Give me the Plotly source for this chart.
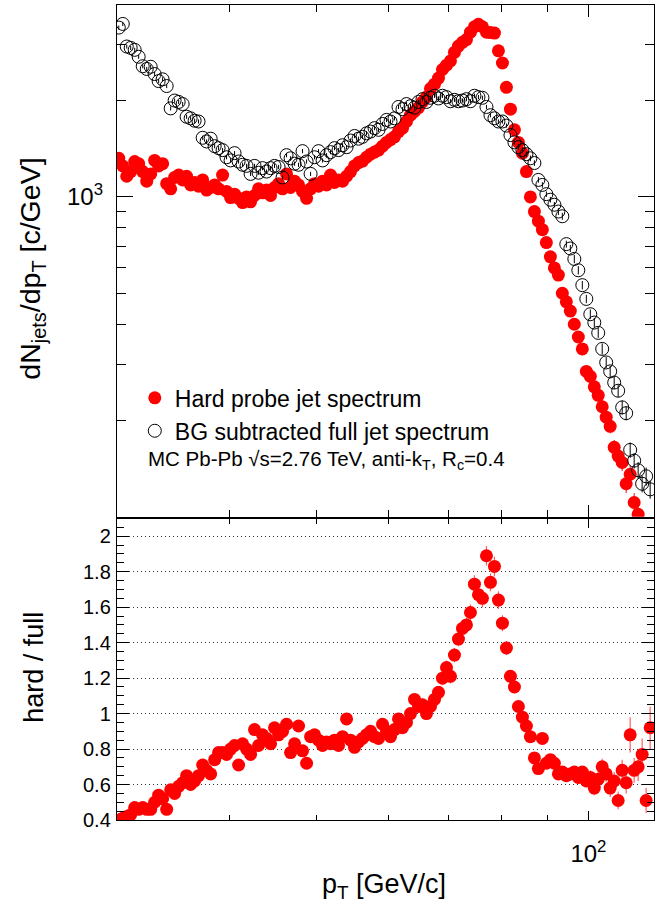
import plotly.graph_objects as go

# ---------------- data ----------------
pt = [30.14, 30.45, 30.76, 31.07, 31.39, 31.71, 32.04, 32.37, 32.70, 33.03,
      33.37, 33.71, 34.06, 34.41, 34.76, 35.12, 35.48, 35.84, 36.21, 36.58,
      36.95, 37.34, 37.72, 38.11, 38.50, 38.89, 39.29, 39.69, 40.10, 40.51,
      40.93, 41.35, 41.77, 42.20, 42.63, 43.07, 43.51, 43.96, 44.41, 44.86,
      45.33, 45.79, 46.26, 46.74, 47.22, 47.70, 48.19, 48.69, 49.19, 49.69,
      50.20, 50.72, 51.24, 51.76, 52.29, 52.83, 53.37, 53.92, 54.47, 55.03,
      55.60, 56.17, 56.74, 57.33, 57.92, 58.51, 59.11, 59.72, 60.33, 60.95,
      61.57, 62.20, 62.84, 63.49, 64.14, 64.80, 65.46, 66.13, 66.81, 67.50,
      68.19, 68.89, 69.60, 70.31, 71.03, 71.76, 72.50, 73.24, 73.99, 74.75,
      75.52, 76.29, 77.08, 77.87, 78.67, 79.47, 80.29, 81.11, 81.95, 82.79,
      83.63, 84.49, 85.36, 86.23, 87.12, 88.01, 88.91, 89.82, 90.75, 91.68,
      92.62, 93.56, 94.52, 95.49, 96.47, 97.46, 98.46, 99.47, 100.49, 101.52,
      102.54, 103.59, 104.65, 105.72, 106.81, 107.90, 109.01, 110.13, 111.26, 112.40,
      113.55, 114.71, 115.89, 117.08]

hard = [1320, 1250, 1160, 1200, 1290, 1270, 1200, 1120, 1180, 1300,
        1250, 1270, 1100, 1060, 1150, 1170, 1130, 1160, 1090, 1110,
        1080, 1130, 1050, 1070, 1090, 1060, 1170, 1040, 995, 1020,
        990, 960, 1000, 965, 1010, 1060, 1030, 1050, 1010, 1070,
        1100, 1060, 1180, 1070, 1120, 1090, 1040, 990, 1060, 1100,
        1080, 1120, 1090, 1170, 1110, 1130, 1120, 1160, 1200, 1250,
        1280, 1294, 1330, 1360, 1380, 1400, 1440, 1480, 1510, 1540,
        1600, 1640, 1720, 1800, 1850, 1900, 1980, 2050, 2180, 2250,
        2350, 2500, 2580, 2660, 2830, 2960, 3040, 3100, 3270, 3400,
        3460, 3400, 3270, 3260, 3250, 2860, 2620, 2200, 1880, 1620,
        1480, 1370, 1200, 1000, 900, 840, 790, 720, 650, 600,
        570, 500, 470, 440, 400, 365, 335, 285, 275, 255,
        240, 221, 205, 192, 165, 155, 148, 127, 136, 111,
        102, 95, 89, 84]

full = [3380, 3470, 2950, 2920, 2880, 2740, 2560, 2510, 2550, 2420,
        2300, 2330, 2220, 1890, 2000, 1980, 1950, 1780, 1760, 1730,
        1720, 1530, 1490, 1520, 1440, 1420, 1400, 1330, 1300, 1370,
        1290, 1260, 1250, 1180, 1250, 1190, 1230, 1200, 1230, 1250,
        1240, 1150, 1350, 1320, 1270, 1260, 1390, 1290, 1180, 1330,
        1390, 1300, 1350, 1380, 1420, 1400, 1450, 1430, 1500, 1550,
        1520, 1540, 1580, 1600, 1640, 1620, 1690, 1740, 1720, 1760,
        1910, 1880, 1950, 1920, 1900, 1980, 2020, 1980, 2040, 2070,
        2030, 2070, 2050, 1990, 2010, 1990, 2000, 2020, 1990, 2070,
        2050, 2040, 1910, 1800, 1760, 1720, 1720, 1670, 1560, 1480,
        1430, 1400, 1360, 1320, 1276, 1130, 1090, 1020, 980, 945,
        900, 870, 712, 690, 640, 590, 530, 480, 430, 405,
        376, 335, 304, 285, 263, 248, 220, 211, 162, 150,
        140, 127, 134, 122]

ratio = [0.40, 0.41, 0.42, 0.43, 0.47, 0.46, 0.47, 0.46, 0.46, 0.50,
         0.54, 0.52, 0.46, 0.57, 0.55, 0.59, 0.61, 0.65, 0.60, 0.62,
         0.65, 0.71, 0.68, 0.66, 0.74, 0.78, 0.78, 0.77, 0.80, 0.82,
         0.71, 0.83, 0.80, 0.77, 0.91, 0.82, 0.88, 0.86, 0.83, 0.92,
         0.88, 0.90, 0.94, 0.78, 0.83, 0.93, 0.79, 0.72, 0.87, 0.88,
         0.85, 0.82, 0.84, 0.83, 0.85, 0.82, 0.87, 0.97, 0.85, 0.81,
         0.84, 0.86, 0.88, 0.90, 0.87, 0.86, 0.94, 0.90, 0.87, 0.91,
         0.97, 0.92, 0.95, 1.00, 1.08, 1.04, 1.05, 1.00, 1.04, 1.08,
         1.12, 1.20, 1.26, 1.21, 1.33, 1.42, 1.48, 1.50, 1.57, 1.73,
         1.67, 1.65, 1.89, 1.74, 1.83, 1.64, 1.51, 1.37, 1.21, 1.15,
         1.04, 0.98, 0.93, 0.87, 0.75, 0.69, 0.86, 0.72, 0.74, 0.72,
         0.66, 0.67, 0.65, 0.66, 0.67, 0.64, 0.67, 0.62, 0.64, 0.58,
         0.63, 0.70, 0.66, 0.58, 0.62, 0.51, 0.68, 0.61, 0.88, 0.68,
         0.70, 0.77, 0.51, 0.92]

hard_relerr = [0.02, 0.02, 0.02, 0.02, 0.02, 0.02, 0.02, 0.02, 0.02, 0.02,
               0.02, 0.02, 0.02, 0.02, 0.02, 0.02, 0.02, 0.02, 0.02, 0.02,
               0.02, 0.02, 0.02, 0.02, 0.02, 0.02, 0.02, 0.02, 0.02, 0.02,
               0.02, 0.02, 0.02, 0.02, 0.02, 0.02, 0.02, 0.02, 0.02, 0.02,
               0.02, 0.02, 0.02, 0.02, 0.02, 0.02, 0.02, 0.02, 0.02, 0.02,
               0.02, 0.02, 0.02, 0.02, 0.02, 0.02, 0.02, 0.02, 0.02, 0.02,
               0.015, 0.015, 0.015, 0.015, 0.015, 0.015, 0.015, 0.015, 0.015, 0.015,
               0.015, 0.015, 0.015, 0.015, 0.015, 0.015, 0.015, 0.015, 0.015, 0.015,
               0.015, 0.015, 0.015, 0.015, 0.015, 0.015, 0.015, 0.015, 0.015, 0.015,
               0.015, 0.015, 0.015, 0.015, 0.015, 0.015, 0.015, 0.015, 0.015, 0.015,
               0.025, 0.025, 0.025, 0.025, 0.025, 0.025, 0.025, 0.025, 0.025, 0.025,
               0.03, 0.035, 0.035, 0.035, 0.035, 0.035, 0.04, 0.04, 0.04, 0.04,
               0.045, 0.05, 0.05, 0.05, 0.055, 0.06, 0.06, 0.065, 0.065, 0.07,
               0.07, 0.075, 0.075, 0.08]

full_relerr = [0.015, 0.015, 0.015, 0.015, 0.015, 0.015, 0.015, 0.015, 0.015, 0.015,
               0.015, 0.015, 0.015, 0.015, 0.015, 0.015, 0.015, 0.015, 0.015, 0.015,
               0.015, 0.015, 0.015, 0.015, 0.015, 0.015, 0.015, 0.015, 0.015, 0.015,
               0.015, 0.015, 0.015, 0.015, 0.015, 0.015, 0.015, 0.015, 0.015, 0.015,
               0.015, 0.015, 0.015, 0.015, 0.015, 0.015, 0.015, 0.015, 0.015, 0.015,
               0.015, 0.015, 0.015, 0.015, 0.015, 0.015, 0.015, 0.015, 0.015, 0.015,
               0.015, 0.015, 0.015, 0.015, 0.015, 0.015, 0.015, 0.015, 0.015, 0.015,
               0.015, 0.015, 0.015, 0.015, 0.015, 0.015, 0.015, 0.015, 0.015, 0.015,
               0.015, 0.015, 0.015, 0.015, 0.015, 0.015, 0.015, 0.015, 0.015, 0.015,
               0.015, 0.015, 0.015, 0.015, 0.015, 0.015, 0.015, 0.015, 0.015, 0.015,
               0.02, 0.02, 0.02, 0.02, 0.02, 0.02, 0.02, 0.02, 0.02, 0.02,
               0.025, 0.025, 0.025, 0.025, 0.03, 0.03, 0.03, 0.03, 0.035, 0.035,
               0.035, 0.04, 0.04, 0.04, 0.045, 0.045, 0.05, 0.05, 0.055, 0.055,
               0.06, 0.06, 0.065, 0.065]

ratio_err = [0.03, 0.03, 0.03, 0.03, 0.03, 0.03, 0.03, 0.03, 0.03, 0.03,
             0.03, 0.03, 0.03, 0.03, 0.03, 0.03, 0.03, 0.03, 0.03, 0.03,
             0.03, 0.03, 0.03, 0.03, 0.03, 0.03, 0.03, 0.03, 0.03, 0.03,
             0.03, 0.03, 0.03, 0.03, 0.03, 0.03, 0.03, 0.03, 0.03, 0.03,
             0.03, 0.03, 0.03, 0.03, 0.03, 0.03, 0.03, 0.03, 0.03, 0.03,
             0.03, 0.03, 0.03, 0.03, 0.03, 0.03, 0.03, 0.035, 0.03, 0.03,
             0.035, 0.035, 0.035, 0.035, 0.035, 0.035, 0.035, 0.035, 0.035, 0.035,
             0.035, 0.035, 0.035, 0.035, 0.035, 0.035, 0.035, 0.035, 0.035, 0.035,
             0.035, 0.04, 0.04, 0.04, 0.04, 0.04, 0.04, 0.04, 0.045, 0.05,
             0.05, 0.05, 0.055, 0.05, 0.055, 0.05, 0.045, 0.04, 0.035, 0.035,
             0.03, 0.03, 0.03, 0.03, 0.03, 0.03, 0.03, 0.03, 0.03, 0.03,
             0.03, 0.03, 0.03, 0.03, 0.035, 0.035, 0.035, 0.035, 0.04, 0.04,
             0.04, 0.045, 0.045, 0.05, 0.05, 0.05, 0.06, 0.06, 0.1, 0.07,
             0.08, 0.09, 0.07, 0.12]

legend_names = ["Hard probe jet spectrum", "BG subtracted full jet spectrum"]
x_major = [100]
x_major_text = ["10<sup>2</sup>"]
x_minor = [40, 50, 60, 70, 80, 90]
y_top_major = [1000]
y_top_major_text = ["10<sup>3</sup>"]
y_top_minor = [200, 300, 400, 500, 600, 700, 800, 900, 2000, 3000]
y_bot_ticks = [0.4, 0.6, 0.8, 1.0, 1.2, 1.4, 1.6, 1.8, 2.0]
y_bot_text = ["0.4", "0.6", "0.8", "1", "1.2", "1.4", "1.6", "1.8", "2"]

hard_err = [v * e for v, e in zip(hard, hard_relerr)]
full_err = [v * e for v, e in zip(full, full_relerr)]

# ---------------- layout helpers ----------------
W, H = 655, 912
FONT = "Liberation Sans, Arial, Helvetica, sans-serif"


def fx(p):
    return p / W


def fy(p):
    return 1 - p / H


RED = "#ff0000"

fig = go.Figure()
fig.add_trace(go.Scatter(
    x=pt, y=hard, mode="markers", name=legend_names[0],
    marker=dict(symbol="circle", size=13, color=RED, line=dict(width=0)),
    error_y=dict(type="data", array=hard_err, color=RED, thickness=1, width=0),
    xaxis="x", yaxis="y"))
fig.add_trace(go.Scatter(
    x=pt, y=full, mode="markers", name=legend_names[1],
    marker=dict(symbol="circle-open", size=13, color="black", line=dict(width=1, color="black")),
    error_y=dict(type="data", array=full_err, color="black", thickness=1, width=0),
    xaxis="x", yaxis="y"))
fig.add_trace(go.Scatter(
    x=pt, y=ratio, mode="markers", showlegend=False,
    marker=dict(symbol="circle", size=13, color=RED, line=dict(width=0)),
    error_y=dict(type="data", array=ratio_err, color="rgba(255,40,40,0.75)", thickness=1.2, width=0),
    xaxis="x2", yaxis="y2"))

xr = [1.47697, 2.07276]
xdom = [fx(117), 1.0]

axis_common = dict(showline=True, linecolor="black", linewidth=1, mirror="allticks",
                   ticks="inside", tickcolor="black", tickwidth=1, showgrid=False,
                   zeroline=False)

fig.update_layout(
    width=W, height=H, autosize=False,
    margin=dict(l=0, r=0, t=0, b=0),
    paper_bgcolor="white", plot_bgcolor="white",
    font=dict(family=FONT, color="black"),
    xaxis=dict(type="log", range=xr, domain=xdom, anchor="y",
               tickvals=x_major, ticktext=x_major_text, ticklen=12,
               showticklabels=False,
               minor=dict(tickvals=x_minor, ticks="inside", ticklen=7,
                          tickcolor="black", showgrid=False),
               **axis_common),
    yaxis=dict(type="log", range=[2.00093, 3.59969], domain=[fy(523), fy(5)],
               anchor="x", tickvals=y_top_major, ticktext=y_top_major_text,
               ticklen=16, tickfont=dict(size=24, family=FONT),
               ticklabelstandoff=8,
               minor=dict(tickvals=y_top_minor, ticks="inside", ticklen=9,
                          tickcolor="black", showgrid=False),
               **axis_common),
    xaxis2=dict(type="log", range=xr, domain=xdom, anchor="y2",
                tickvals=x_major, ticktext=x_major_text, ticklen=9,
                tickfont=dict(size=24, family=FONT), ticklabelstandoff=12,
                minor=dict(tickvals=x_minor, ticks="inside", ticklen=5,
                           tickcolor="black", showgrid=False),
                **axis_common),
    yaxis2=dict(type="linear", range=[0.4, 2.0992], domain=[fy(830), fy(525)],
                anchor="x2", tickvals=y_bot_ticks, ticktext=y_bot_text,
                ticklen=12, tickfont=dict(size=20, family=FONT),
                ticklabelstandoff=1,
                minor=dict(dtick=0.05, tick0=0.4, ticks="inside", ticklen=7,
                           tickcolor="black", showgrid=False),
                showline=True, linecolor="black", linewidth=1, mirror="allticks",
                ticks="inside", tickcolor="black", tickwidth=1, zeroline=False,
                showgrid=True, gridcolor="#333333", gridwidth=1, griddash="1px,3px"),
    legend=dict(x=fx(135), y=fy(381), xanchor="left", yanchor="top",
                font=dict(size=23, family=FONT, color="black"),
                bgcolor="rgba(0,0,0,0)", borderwidth=0, tracegroupgap=0),
    showlegend=True,
)

fig.add_annotation(text="MC Pb-Pb \u221As=2.76 TeV, anti-k<sub>T</sub>, R<sub>c</sub>=0.4",
                   xref="paper", yref="paper", x=fx(146), y=fy(466),
                   xanchor="left", yanchor="middle", showarrow=False,
                   font=dict(size=20.5, family=FONT, color="black"))
fig.add_annotation(text="dN<sub>jets</sub>/dp<sub>T</sub> [c/GeV]",
                   xref="paper", yref="paper", x=fx(32), y=fy(272),
                   xanchor="center", yanchor="middle", textangle=-90, showarrow=False,
                   font=dict(size=28.5, family=FONT, color="black"))
fig.add_annotation(text="hard / full",
                   xref="paper", yref="paper", x=fx(34), y=fy(675),
                   xanchor="center", yanchor="middle", textangle=-90, showarrow=False,
                   font=dict(size=27, family=FONT, color="black"))
fig.add_annotation(text="p<sub>T</sub> [GeV/c]",
                   xref="paper", yref="paper", x=fx(449), y=fy(897),
                   xanchor="right", yanchor="middle", showarrow=False,
                   font=dict(size=27, family=FONT, color="black"))

fig.write_html("out.html")
